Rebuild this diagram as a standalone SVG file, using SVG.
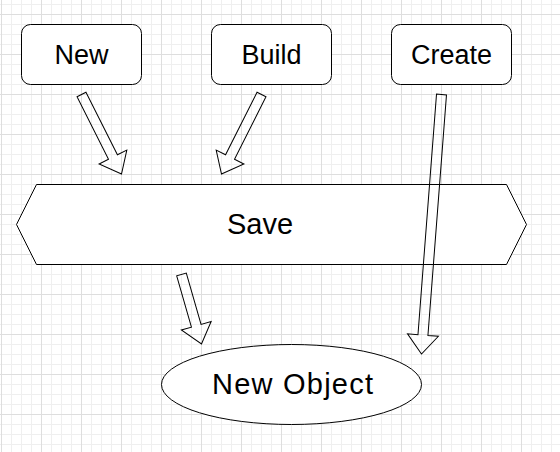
<svg xmlns="http://www.w3.org/2000/svg" width="560" height="452" viewBox="0 0 560 452">
<defs>
<pattern id="minor" patternUnits="userSpaceOnUse" x="1" y="4" width="10" height="10">
<path d="M0.5 0V10M0 0.5H10" fill="none" stroke="#efefef" stroke-width="1"/>
</pattern>
<pattern id="major" patternUnits="userSpaceOnUse" x="1" y="14" width="40" height="40">
<path d="M0.5 0V40M0 0.5H40" fill="none" stroke="#dedede" stroke-width="1"/>
</pattern>
</defs>
<style>
.shape{fill:#ffffff;stroke:#000000;stroke-width:1}
.arrow{fill:none;stroke:#000000;stroke-width:1;stroke-linejoin:miter}
.label{font-family:"Liberation Sans",Arial,sans-serif;font-size:27px;fill:#000000;text-anchor:middle}
.big{font-size:29px}
</style>
<rect width="560" height="452" fill="#ffffff"/>
<rect width="560" height="452" fill="url(#minor)"/>
<rect width="560" height="452" fill="url(#major)"/>
<g id="node-new">
<rect class="shape" x="21.5" y="24.5" width="120" height="60" rx="9" ry="9"/>
<text class="label" x="81.5" y="63.5">New</text>
</g>
<g id="node-build">
<rect class="shape" x="211.5" y="24.5" width="120" height="60" rx="9" ry="9"/>
<text class="label" x="271.5" y="63.5">Build</text>
</g>
<g id="node-create">
<rect class="shape" x="391.5" y="24.5" width="120" height="60" rx="9" ry="9"/>
<text class="label" x="451.5" y="63.5">Create</text>
</g>
<g id="node-save">
<polygon class="shape" points="36.5,184.5 506.5,184.5 526.5,224.5 506.5,264.5 36.5,264.5 16.5,224.5"/>
<text class="label big" x="260" y="234">Save</text>
</g>
<g id="node-newobject">
<ellipse class="shape" cx="291.5" cy="384.5" rx="130" ry="40"/>
<text class="label big" x="292.5" y="394" textLength="161" lengthAdjust="spacing">New Object</text>
</g>
<g id="connectors">
<polygon class="arrow" transform="translate(81.5,94.5) rotate(63.29)" points="0,-5 70,-5 70,-15.5 89,0 70,15.5 70,5 0,5"/>
<polygon class="arrow" transform="translate(261.5,94.5) rotate(116.71)" points="0,-5 70,-5 70,-15.5 89,0 70,15.5 70,5 0,5"/>
<polygon class="arrow" transform="translate(441.5,94.5) rotate(94.41)" points="0,-5 241.27,-5 241.27,-15.5 260.27,0 241.27,15.5 241.27,5 0,5"/>
<polygon class="arrow" transform="translate(181.5,274.5) rotate(73.95)" points="0,-5 53.32,-5 53.32,-15.5 72.32,0 53.32,15.5 53.32,5 0,5"/>
</g>
</svg>
